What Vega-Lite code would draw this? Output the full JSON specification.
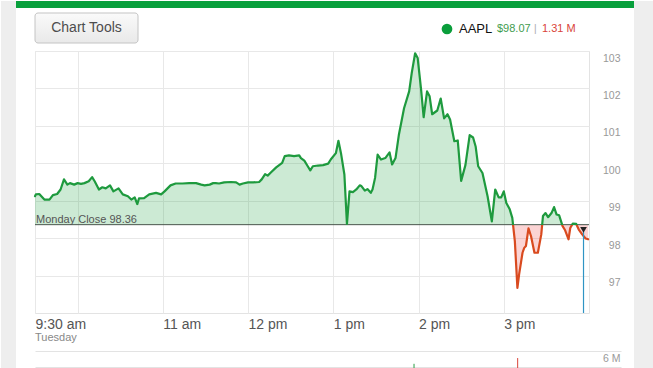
{
  "$schema": "https://vega.github.io/schema/vega-lite/v6.json",
  "background": "white",
  "padding": 0,
  "autosize": {"type": "pad"},
  "bounds": "flush",
  "spacing": 38,
  "config": {
    "font": "Liberation Sans",
    "view": {"stroke": "#e3e3e3"},
    "axis": {"labelFont": "Liberation Sans", "titleFont": "Liberation Sans"}
  },
  "datasets": {
    "price": [
      {"t": 9.5, "p": 99.12}, {"t": 9.51, "p": 99.17}, {"t": 9.55, "p": 99.18}, {"t": 9.61, "p": 99.03}, {"t": 9.67, "p": 99.03},
      {"t": 9.71, "p": 99.15}, {"t": 9.76, "p": 99.18}, {"t": 9.80, "p": 99.30}, {"t": 9.84, "p": 99.57}, {"t": 9.88, "p": 99.43},
      {"t": 9.91, "p": 99.47}, {"t": 9.96, "p": 99.43}, {"t": 10.00, "p": 99.47}, {"t": 10.04, "p": 99.45}, {"t": 10.08, "p": 99.47},
      {"t": 10.13, "p": 99.52}, {"t": 10.17, "p": 99.63}, {"t": 10.20, "p": 99.52}, {"t": 10.25, "p": 99.30}, {"t": 10.29, "p": 99.36},
      {"t": 10.33, "p": 99.33}, {"t": 10.38, "p": 99.41}, {"t": 10.42, "p": 99.25}, {"t": 10.48, "p": 99.33}, {"t": 10.53, "p": 99.17},
      {"t": 10.59, "p": 99.12}, {"t": 10.63, "p": 99.03}, {"t": 10.67, "p": 99.09}, {"t": 10.70, "p": 98.91}, {"t": 10.72, "p": 99.06},
      {"t": 10.78, "p": 99.07}, {"t": 10.84, "p": 99.17}, {"t": 10.92, "p": 99.21}, {"t": 10.98, "p": 99.17}, {"t": 11.02, "p": 99.25},
      {"t": 11.09, "p": 99.41}, {"t": 11.15, "p": 99.46}, {"t": 11.23, "p": 99.46}, {"t": 11.31, "p": 99.47}, {"t": 11.39, "p": 99.47},
      {"t": 11.45, "p": 99.43}, {"t": 11.49, "p": 99.41}, {"t": 11.55, "p": 99.43}, {"t": 11.59, "p": 99.47}, {"t": 11.62, "p": 99.47},
      {"t": 11.66, "p": 99.46}, {"t": 11.72, "p": 99.49}, {"t": 11.80, "p": 99.50}, {"t": 11.86, "p": 99.49}, {"t": 11.90, "p": 99.43},
      {"t": 11.94, "p": 99.46}, {"t": 12.00, "p": 99.49}, {"t": 12.06, "p": 99.49}, {"t": 12.13, "p": 99.50}, {"t": 12.16, "p": 99.57},
      {"t": 12.20, "p": 99.71}, {"t": 12.23, "p": 99.67}, {"t": 12.27, "p": 99.76}, {"t": 12.33, "p": 99.89}, {"t": 12.40, "p": 100.01},
      {"t": 12.43, "p": 100.19}, {"t": 12.48, "p": 100.21}, {"t": 12.54, "p": 100.19}, {"t": 12.60, "p": 100.21}, {"t": 12.62, "p": 100.14},
      {"t": 12.66, "p": 100.07}, {"t": 12.70, "p": 99.92}, {"t": 12.73, "p": 99.81}, {"t": 12.76, "p": 99.92}, {"t": 12.82, "p": 99.94},
      {"t": 12.88, "p": 99.95}, {"t": 12.94, "p": 99.99}, {"t": 12.97, "p": 100.10}, {"t": 13.03, "p": 100.27}, {"t": 13.06, "p": 100.60},
      {"t": 13.09, "p": 100.27}, {"t": 13.13, "p": 99.70}, {"t": 13.16, "p": 98.38}, {"t": 13.19, "p": 99.25}, {"t": 13.23, "p": 99.23},
      {"t": 13.27, "p": 99.30}, {"t": 13.31, "p": 99.41}, {"t": 13.33, "p": 99.39}, {"t": 13.37, "p": 99.27}, {"t": 13.40, "p": 99.31},
      {"t": 13.44, "p": 99.21}, {"t": 13.46, "p": 99.30}, {"t": 13.49, "p": 99.61}, {"t": 13.52, "p": 100.23}, {"t": 13.56, "p": 100.10},
      {"t": 13.61, "p": 100.14}, {"t": 13.66, "p": 100.29}, {"t": 13.69, "p": 99.97}, {"t": 13.73, "p": 100.14}, {"t": 13.77, "p": 100.77},
      {"t": 13.83, "p": 101.47}, {"t": 13.89, "p": 101.92}, {"t": 13.92, "p": 102.41}, {"t": 13.96, "p": 102.94}, {"t": 13.99, "p": 102.81},
      {"t": 14.03, "p": 101.97}, {"t": 14.06, "p": 101.23}, {"t": 14.10, "p": 101.92}, {"t": 14.13, "p": 101.79}, {"t": 14.16, "p": 101.31},
      {"t": 14.22, "p": 101.41}, {"t": 14.26, "p": 101.73}, {"t": 14.30, "p": 101.20}, {"t": 14.34, "p": 101.31}, {"t": 14.37, "p": 101.17},
      {"t": 14.42, "p": 100.59}, {"t": 14.46, "p": 100.61}, {"t": 14.50, "p": 99.53}, {"t": 14.55, "p": 99.95}, {"t": 14.60, "p": 100.75},
      {"t": 14.64, "p": 100.69}, {"t": 14.67, "p": 100.45}, {"t": 14.70, "p": 99.92}, {"t": 14.75, "p": 99.74}, {"t": 14.81, "p": 99.12},
      {"t": 14.86, "p": 98.45}, {"t": 14.90, "p": 99.30}, {"t": 14.94, "p": 99.09}, {"t": 14.97, "p": 99.09}, {"t": 15.00, "p": 99.25},
      {"t": 15.03, "p": 98.94}, {"t": 15.07, "p": 98.77}, {"t": 15.10, "p": 98.54}, {"t": 15.13, "p": 97.92}, {"t": 15.16, "p": 96.67},
      {"t": 15.18, "p": 97.03}, {"t": 15.22, "p": 97.61}, {"t": 15.24, "p": 97.74}, {"t": 15.26, "p": 97.79}, {"t": 15.29, "p": 98.26},
      {"t": 15.32, "p": 98.05}, {"t": 15.36, "p": 97.61}, {"t": 15.40, "p": 97.61}, {"t": 15.44, "p": 98.10}, {"t": 15.46, "p": 98.59},
      {"t": 15.49, "p": 98.67}, {"t": 15.52, "p": 98.56}, {"t": 15.56, "p": 98.67}, {"t": 15.59, "p": 98.83}, {"t": 15.62, "p": 98.63},
      {"t": 15.65, "p": 98.61}, {"t": 15.69, "p": 98.32}, {"t": 15.72, "p": 98.21}, {"t": 15.76, "p": 97.97}, {"t": 15.78, "p": 98.27},
      {"t": 15.81, "p": 98.39}, {"t": 15.85, "p": 98.38}, {"t": 15.88, "p": 98.23}, {"t": 15.92, "p": 98.10}, {"t": 15.96, "p": 97.99},
      {"t": 15.99, "p": 97.97}
    ],
    "volume": [
      {"t": 13.947, "v": 4400000, "dir": "up"},
      {"t": 15.163, "v": 5120000, "dir": "down"}
    ]
  },
  "vconcat": [
    {
      "width": 554,
      "height": 262,
      "layer": [
        {
          "data": {"values": [{}]},
          "mark": {"type": "rect", "fill": "#eeeeee", "clip": false},
          "encoding": {
            "x": {"datum": 9.10108, "type": "quantitative"},
            "x2": {"datum": 9.27708},
            "y": {"datum": 104.33588, "type": "quantitative"},
            "y2": {"datum": 94.3}
          }
        },
        {
          "data": {"values": [{}]},
          "mark": {"type": "rect", "fill": "#eeeeee", "clip": false},
          "encoding": {
            "x": {"datum": 16.52798, "type": "quantitative"},
            "x2": {"datum": 16.8},
            "y": {"datum": 104.33588, "type": "quantitative"},
            "y2": {"datum": 94.3}
          }
        },
        {
          "data": {"values": [{}]},
          "mark": {"type": "rect", "fill": "#08a03c", "clip": false},
          "encoding": {
            "x": {"datum": 9.27708, "type": "quantitative"},
            "x2": {"datum": 16.52798},
            "y": {"datum": 104.33588, "type": "quantitative"},
            "y2": {"datum": 104.14885}
          }
        },
        {
          "data": {"values": [{}]},
          "mark": {
            "type": "rect", "clip": false, "cornerRadius": 3, "stroke": "#c4c4c4", "strokeWidth": 1,
            "fill": {"gradient": "linear", "x1": 0, "y1": 0, "x2": 0, "y2": 1, "stops": [{"offset": 0, "color": "#fafafa"}, {"offset": 1, "color": "#e9e9e9"}]}
          },
          "encoding": {
            "x": {"datum": 9.5, "type": "quantitative"},
            "x2": {"datum": 10.7085},
            "y": {"datum": 104.01527, "type": "quantitative"},
            "y2": {"datum": 103.21374}
          }
        },
        {
          "data": {"values": [{"label": "Chart Tools"}]},
          "mark": {"type": "text", "clip": false, "align": "center", "baseline": "middle", "fontSize": 14, "color": "#4d4d4d"},
          "encoding": {
            "x": {"datum": 10.1043, "type": "quantitative"},
            "y": {"datum": 103.6145, "type": "quantitative"},
            "text": {"field": "label"}
          }
        },
        {
          "data": {"values": [{}]},
          "mark": {"type": "point", "clip": false, "shape": "circle", "filled": true, "size": 115, "opacity": 1, "color": "#0a9e3b"},
          "encoding": {
            "x": {"datum": 14.3339, "type": "quantitative"},
            "y": {"datum": 103.5878, "type": "quantitative"}
          }
        },
        {
          "data": {"values": [{"label": "AAPL"}]},
          "mark": {"type": "text", "clip": false, "align": "left", "baseline": "middle", "fontSize": 13, "color": "#111111"},
          "encoding": {
            "x": {"datum": 14.4747, "type": "quantitative"},
            "y": {"datum": 103.5878, "type": "quantitative"},
            "text": {"field": "label"}
          }
        },
        {
          "data": {"values": [{"label": "$98.07"}]},
          "mark": {"type": "text", "clip": false, "align": "left", "baseline": "middle", "fontSize": 11, "color": "#3f9c4f"},
          "encoding": {
            "x": {"datum": 14.9206, "type": "quantitative"},
            "y": {"datum": 103.5878, "type": "quantitative"},
            "text": {"field": "label"}
          }
        },
        {
          "data": {"values": [{"label": "|"}]},
          "mark": {"type": "text", "clip": false, "align": "left", "baseline": "middle", "fontSize": 10, "color": "#aaaaaa"},
          "encoding": {
            "x": {"datum": 15.3547, "type": "quantitative"},
            "y": {"datum": 103.5878, "type": "quantitative"},
            "text": {"field": "label"}
          }
        },
        {
          "data": {"values": [{"label": "1.31 M"}]},
          "mark": {"type": "text", "clip": false, "align": "left", "baseline": "middle", "fontSize": 11, "color": "#d9443a"},
          "encoding": {
            "x": {"datum": 15.4486, "type": "quantitative"},
            "y": {"datum": 103.5878, "type": "quantitative"},
            "text": {"field": "label"}
          }
        },
        {
          "data": {"name": "price"},
          "mark": {
            "type": "area", "opacity": 1,
            "fill": {"gradient": "linear", "x1": 0, "y1": 0, "x2": 0, "y2": 1, "stops": [
              {"offset": 0, "color": "rgba(0,150,40,0.2)"},
              {"offset": 0.7305, "color": "rgba(0,150,40,0.2)"},
              {"offset": 0.7306, "color": "rgba(235,40,40,0.2)"},
              {"offset": 1, "color": "rgba(235,40,40,0.2)"}
            ]}
          },
          "encoding": {
            "x": {
              "field": "t", "type": "quantitative", "title": null,
              "scale": {"domain": [9.5, 16], "nice": false, "zero": false},
              "axis": {
                "title": null, "orient": "bottom", "values": [9.5, 10, 11, 12, 13, 14, 15],
                "labelExpr": "datum.value == 9.5 ? '9:30 am' : datum.value == 10 ? '' : datum.value < 12 ? datum.value + ' am' : datum.value == 12 ? '12 pm' : (datum.value - 12) + ' pm'",
                "grid": true, "gridColor": "#e8e8e8", "ticks": false, "tickSize": 0, "domain": false,
                "labelAlign": "left", "labelBaseline": "top", "labelPadding": 4, "labelFontSize": 14, "labelColor": "#555555",
                "labelFlush": false, "labelBound": false, "labelOverlap": false
              }
            },
            "y": {
              "field": "p", "type": "quantitative", "title": null,
              "scale": {"domain": [96, 103], "nice": false, "zero": false},
              "axis": {
                "title": null, "orient": "right", "values": [97, 98, 99, 100, 101, 102, 103],
                "grid": true, "gridColor": "#e8e8e8", "ticks": false, "tickSize": 0, "domain": false,
                "labelAlign": "right", "labelBaseline": "middle", "labelPadding": 31, "labelOffset": 7,
                "labelFontSize": 10.5, "labelColor": "#999999",
                "labelFlush": false, "labelBound": false, "labelOverlap": false
              }
            },
            "y2": {"datum": 98.36}
          }
        },
        {
          "data": {"values": [{}]},
          "mark": {"type": "rule", "stroke": "#4a554d", "strokeWidth": 1, "clip": false},
          "encoding": {
            "x": {"datum": 9.5, "type": "quantitative"},
            "x2": {"datum": 16},
            "y": {"datum": 98.36, "type": "quantitative"}
          }
        },
        {
          "data": {"name": "price"},
          "mark": {
            "type": "line", "strokeWidth": 2.2, "strokeJoin": "round", "strokeCap": "round",
            "stroke": {"gradient": "linear", "x1": 0, "y1": 0, "x2": 0, "y2": 1, "stops": [
              {"offset": 0, "color": "#1e9a3e"},
              {"offset": 0.7305, "color": "#1e9a3e"},
              {"offset": 0.7306, "color": "#d94a1f"},
              {"offset": 1, "color": "#d94a1f"}
            ]}
          },
          "encoding": {
            "x": {"field": "t", "type": "quantitative"},
            "y": {"field": "p", "type": "quantitative"}
          }
        },
        {
          "data": {"values": [{"label": "Monday Close 98.36"}]},
          "mark": {"type": "text", "clip": false, "align": "left", "baseline": "alphabetic", "dy": -2, "fontSize": 11, "color": "#555555"},
          "encoding": {
            "x": {"datum": 9.512, "type": "quantitative"},
            "y": {"datum": 98.36, "type": "quantitative"},
            "text": {"field": "label"}
          }
        },
        {
          "data": {"values": [{}]},
          "mark": {"type": "rule", "stroke": "#2f94c4", "strokeWidth": 1.2, "opacity": 1, "clip": false},
          "encoding": {
            "x": {"datum": 15.9356, "type": "quantitative"},
            "y": {"datum": 98.19, "type": "quantitative"},
            "y2": {"datum": 96}
          }
        },
        {
          "data": {"values": [{}]},
          "mark": {"type": "point", "clip": false, "shape": "triangle-down", "filled": true, "size": 45, "opacity": 1, "color": "#222222"},
          "encoding": {
            "x": {"datum": 15.9356, "type": "quantitative"},
            "y": {"datum": 98.22, "type": "quantitative"}
          }
        },
        {
          "data": {"values": [{"label": "Tuesday"}]},
          "mark": {"type": "text", "clip": false, "align": "left", "baseline": "middle", "fontSize": 11, "color": "#888888"},
          "encoding": {
            "x": {"datum": 9.5, "type": "quantitative"},
            "y": {"datum": 95.332, "type": "quantitative"},
            "text": {"field": "label"}
          }
        }
      ]
    },
    {
      "width": 586,
      "height": 48,
      "view": {"stroke": null},
      "data": {"name": "volume"},
      "mark": {"type": "rule", "strokeWidth": 1},
      "encoding": {
        "x": {"field": "t", "type": "quantitative", "scale": {"domain": [9.5, 16.37545], "nice": false, "zero": false}, "axis": null},
        "y": {
          "field": "v", "type": "quantitative",
          "scale": {"domain": [0, 6000000], "nice": false},
          "axis": {
            "title": null, "orient": "right", "values": [2000000, 4000000, 6000000],
            "grid": true, "gridColor": "#e3e3e3", "ticks": false, "tickSize": 0, "domain": false,
            "labelExpr": "datum.value == 6000000 ? '6 M' : ''",
            "labelAlign": "right", "labelBaseline": "middle", "labelPadding": -1, "labelOffset": 7,
            "labelFontSize": 10.5, "labelColor": "#999999",
            "labelFlush": false, "labelBound": false, "labelOverlap": false
          }
        },
        "y2": {"datum": 0},
        "color": {"field": "dir", "type": "nominal", "scale": {"domain": ["up", "down"], "range": ["#2a9d45", "#d9443a"]}, "legend": null}
      }
    }
  ]
}
